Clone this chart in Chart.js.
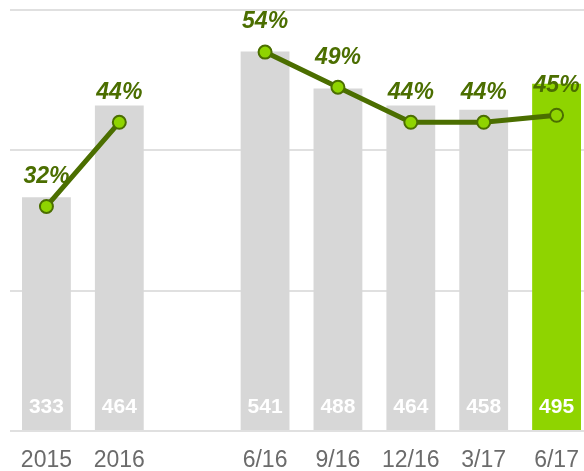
<!DOCTYPE html>
<html>
<head>
<meta charset="utf-8">
<script src="https://cdn.jsdelivr.net/npm/chart.js@4/dist/chart.umd.min.js"></script>
<style>
  html, body { margin: 0; padding: 0; overflow: hidden; background: #fff; }
  #wrap { width: 594px; height: 471px; }
</style>
</head>
<body>
<div id="wrap"><canvas id="chart" width="594" height="471"></canvas></div>
<script>
// data
const categories = ['2015', '2016', '', '6/16', '9/16', '12/16', '3/17', '6/17'];
const counts = [333, 464, null, 541, 488, 464, 458, 495];
const shares = [32, 44, null, 54, 49, 44, 44, 45];
const countTicks = [0, 200, 400, 600];

const GRAY = '#d7d7d7';
const LIME = '#8fd400';
const DARK = '#4b6e00';

const barColors = counts.map((v, i) => i === counts.length - 1 ? LIME : GRAY);

// draws the white counts at the foot of each bar and the % above each point
const labelPlugin = {
    id: 'labels',
    afterDatasetsDraw(chart) {
        const ctx = chart.ctx;
        const area = chart.chartArea;
        ctx.save();
        ctx.textAlign = 'center';
        ctx.textBaseline = 'middle';

        ctx.font = 'bold 21px "Liberation Sans", Arial, sans-serif';
        ctx.fillStyle = '#ffffff';
        chart.getDatasetMeta(1).data.forEach((bar, i) => {
            if (counts[i] == null) return;
            ctx.fillText(String(counts[i]), bar.x, area.bottom - 24);
        });

        ctx.font = 'italic bold 23px "Liberation Sans", Arial, sans-serif';
        ctx.fillStyle = DARK;
        chart.getDatasetMeta(0).data.forEach((pt, i) => {
            if (shares[i] == null) return;
            ctx.fillText(shares[i] + '%', pt.x, pt.y - 30);
        });
        ctx.restore();
    }
};

new Chart(document.getElementById('chart'), {
    data: {
        labels: categories,
        datasets: [
            {
                type: 'line',
                data: shares,
                yAxisID: 'y2',
                order: 0,
                borderColor: DARK,
                borderWidth: 5,
                pointRadius: 6.5,
                pointBackgroundColor: LIME,
                pointBorderColor: DARK,
                pointBorderWidth: 2,
                spanGaps: false,
                tension: 0
            },
            {
                type: 'bar',
                data: counts,
                yAxisID: 'y',
                order: 1,
                backgroundColor: barColors,
                barPercentage: 0.67,
                categoryPercentage: 1
            }
        ]
    },
    options: {
        responsive: false,
        animation: false,
        layout: { autoPadding: false, padding: { top: 10, right: 1, left: 0, bottom: 0 } },
        plugins: { legend: { display: false }, tooltip: { enabled: false } },
        scales: {
            x: {
                grid: { display: false },
                border: { display: false },
                ticks: {
                    color: '#6b6b6b',
                    font: { family: '"Liberation Sans", Arial, sans-serif', size: 23 },
                    padding: 8,
                    maxRotation: 0,
                    autoSkip: false
                },
                afterFit: s => {
                    s.height = 40;
                    s.paddingLeft = 0;
                    s.paddingRight = 0;
                }
            },
            y: {
                min: countTicks[0],
                max: countTicks[countTicks.length - 1],
                afterBuildTicks: s => { s.ticks = countTicks.map(v => ({ value: v })); },
                grid: { color: '#e0e0e0', lineWidth: 2, drawTicks: false },
                border: { display: false },
                ticks: { display: false },
                afterFit: s => { s.width = 10; }
            },
            y2: {
                display: false,
                min: 0,
                max: 60
            }
        }
    },
    plugins: [labelPlugin]
});
</script>
</body>
</html>
